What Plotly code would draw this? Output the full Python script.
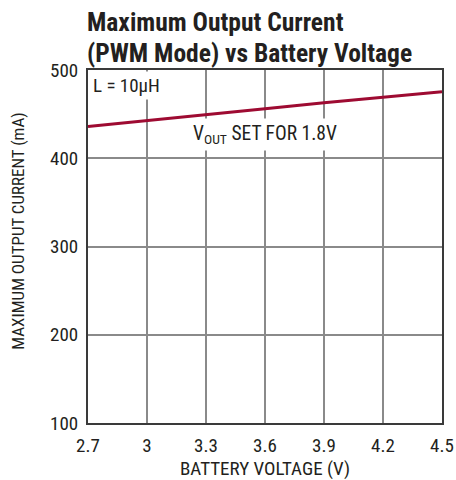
import plotly.graph_objects as go

voltage = [2.7, 3.0, 3.3, 3.6, 3.9, 4.2, 4.5]
current = [436, 442.5, 449, 456, 463, 469.5, 475.5]

x_ticks = [2.7, 3.0, 3.3, 3.6, 3.9, 4.2, 4.5]
x_tick_text = ["2.7", "3", "3.3", "3.6", "3.9", "4.2", "4.5"]
y_ticks = [100, 200, 300, 400, 500]

FONT = "Liberation Sans Narrow, Roboto Condensed, Arial Narrow, sans-serif"
INK = "#231f20"

fig = go.Figure()
fig.add_trace(go.Scatter(
    x=voltage, y=current, mode="lines",
    line=dict(color="#9e0b32", width=3),
    showlegend=False, hoverinfo="skip"
))

# in-plot labels (white boxes break the grid like the original)
fig.add_annotation(
    x=2.7, y=500, xref="x", yref="y", xanchor="left", yanchor="top",
    text="L = 10µH", showarrow=False, bgcolor="white",
    font=dict(family=FONT, size=19, color=INK),
    xshift=2, yshift=-1, borderpad=2
)
fig.add_annotation(
    x=3.6, y=426.5, xref="x", yref="y", xanchor="center", yanchor="middle",
    text="V<sub>OUT</sub> SET FOR 1.8V", showarrow=False, bgcolor="white",
    font=dict(family=FONT, size=19.5, color=INK),
    borderpad=3
)

# title, two lines
fig.add_annotation(
    x=0, y=1, xref="paper", yref="paper", xanchor="left", yanchor="middle",
    text="<b>Maximum Output Current</b>", showarrow=False,
    font=dict(family=FONT, size=25.5, color=INK), xshift=-3, yshift=48
)
fig.add_annotation(
    x=0, y=1, xref="paper", yref="paper", xanchor="left", yanchor="middle",
    text="<b>(PWM Mode) vs Battery Voltage</b>", showarrow=False,
    font=dict(family=FONT, size=25.5, color=INK), xshift=-3, yshift=17
)

# axis titles
fig.add_annotation(
    x=0.5, y=0, xref="paper", yref="paper", xanchor="center", yanchor="middle",
    text="BATTERY VOLTAGE (V)", showarrow=False,
    font=dict(family=FONT, size=19, color=INK), yshift=-45
)
fig.add_annotation(
    x=0, y=0.542, xref="paper", yref="paper", xanchor="center", yanchor="middle",
    text="MAXIMUM OUTPUT CURRENT (mA)", showarrow=False, textangle=-90,
    font=dict(family=FONT, size=17, color=INK), xshift=-70
)

axis_style = dict(
    showgrid=True, gridcolor="#8a8a8a", gridwidth=1.5,
    showline=True, linecolor="#3a3a3a", linewidth=2, mirror=True,
    ticks="", zeroline=False, automargin=False,
    tickfont=dict(family=FONT, size=19, color=INK),
)

fig.update_layout(
    width=456, height=480,
    margin=dict(l=88, r=14, t=70, b=57),
    paper_bgcolor="white", plot_bgcolor="white",
    font=dict(family=FONT, size=16, color=INK),
    xaxis=dict(range=[2.7, 4.5], tickvals=x_ticks, ticktext=x_tick_text,
               ticklabelstandoff=4, **axis_style),
    yaxis=dict(range=[100, 500], tickvals=y_ticks,
               ticklabelstandoff=4, **axis_style),
)

# drop the default page margin so the figure sits at the window's corner
fig.write_html("out.html", config={"displayModeBar": False},
               post_script="document.body.style.margin='0';")
